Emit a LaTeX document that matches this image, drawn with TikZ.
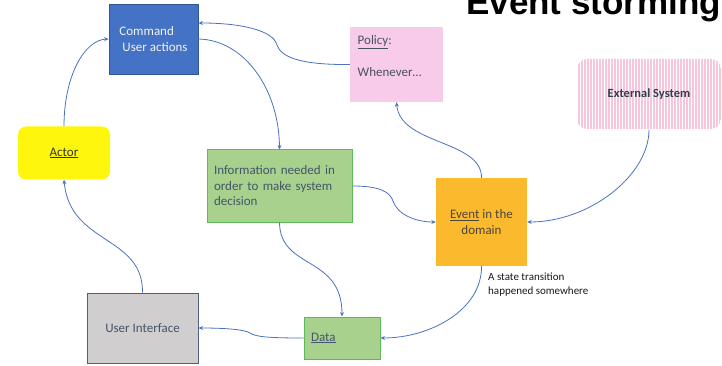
\documentclass[tikz,border=0pt]{standalone}
\usepackage{fontspec}
\setmainfont{Carlito}
\newfontfamily\titlefont{Liberation Sans}
\usetikzlibrary{arrows.meta,patterns.meta}
\definecolor{cmdblue}{HTML}{4472C4}
\definecolor{cmdedge}{HTML}{2F5597}
\definecolor{actyellow}{HTML}{FEF60C}
\definecolor{greenfill}{HTML}{A9D18E}
\definecolor{greenedge}{HTML}{5EB95A}
\definecolor{pinkfill}{HTML}{F9CBEA}
\definecolor{stripe}{HTML}{F7C6DC}
\definecolor{evorange}{HTML}{FBBA2D}
\definecolor{uigray}{HTML}{D0CECE}
\definecolor{uiedge}{HTML}{4E5F80}
\definecolor{arrowblue}{HTML}{4A72C0}
\definecolor{slate}{HTML}{44546A}
\definecolor{navy}{HTML}{333F50}
\definecolor{evtext}{HTML}{4D4536}
\tikzset{
  box/.style={inner sep=7pt, font=\fontsize{13}{15.5}\selectfont},
  conn/.style={draw=arrowblue, line width=0.8pt, -{Stealth[length=4.5pt,width=4pt]}},
}
\begin{document}
\begin{tikzpicture}[x=1pt,y=-1pt]
\useasboundingbox (0,0) rectangle (722,366);
\clip (0,0) rectangle (722,366);
\fill[white] (0,0) rectangle (722,366);

% title
\node[anchor=base west, inner sep=0pt, font=\titlefont\bfseries\fontsize{35}{40}\selectfont] (title) at (466,15) {Event storming};

% boxes
\node[box, fill=cmdblue, draw=cmdedge, line width=0.8pt, minimum width=89pt, minimum height=70pt, text=white!95!black, align=left] (cmd) at (153.5,39) {Command\\\hspace*{3pt}User actions};
\node[box, fill=actyellow, rounded corners=8pt, minimum width=92pt, minimum height=53pt, text=black!80] (act) at (64,153) {\underline{Actor}};
\node[box, fill=greenfill, draw=greenedge, line width=1pt, minimum width=145pt, minimum height=72pt, text width=131pt, align=left, text=slate] (info) at (279.5,186) {Information needed in order to make system decision};
\node[box, fill=pinkfill, minimum width=93pt, minimum height=75pt] (pol) at (396.5,64.5) {};
\node[box, anchor=west, inner sep=0pt, align=left, text=navy!90] (poltxt) at (357.5,56) {\underline{Policy}:\\[16pt]Whenever…};
\node[box, pattern={Lines[angle=90,distance=3pt,line width=1.4pt]}, pattern color=stripe, rounded corners=10pt, minimum width=144pt, minimum height=70pt, text=navy, font=\bfseries\fontsize{12.5}{15}\selectfont] (ext) at (649,94) {External System};
\node[box, fill=evorange, minimum width=91pt, minimum height=88pt, align=center, text=evtext] (ev) at (481.5,222) {\underline{Event} in the\\domain};
\node[box, fill=uigray, draw=uiedge, line width=1pt, minimum width=111pt, minimum height=70pt, text=slate] (ui) at (142.5,328) {User Interface};
\node[box, fill=greenfill, draw=greenedge, line width=1pt, minimum width=76pt, minimum height=42pt, text width=62pt, align=left, text=slate] (data) at (342,338) {\underline{Data}};
\node[anchor=north west, inner sep=0pt, align=left, text=black!90, font=\fontsize{11}{14}\selectfont] (note) at (488,273) {A state transition\\happened somewhere};

% connectors
\draw[conn] (act.north) .. controls (64,75) and (85,40) .. (cmd.west);
\draw[conn] (pol.west) .. controls (300,65) and (281,57) .. (277,45) .. controls (273,30) and (240,23) .. ([yshift=16pt]cmd.east);
\draw[conn] (cmd.east) .. controls (245,40) and (279,90) .. (info.north);
\draw[conn] (info.east) .. controls (380,186) and (390,192) .. (393,201) .. controls (397,214) and (415,222) .. (ev.west);
\draw[conn] (ext.south) .. controls (649,175) and (590,222) .. (ev.east);
\draw[conn] (ev.north) .. controls (482,140) and (400,145) .. (pol.south);
\draw[conn] (info.south) .. controls (280,270) and (342,255) .. (data.north);
\draw[conn] (ev.south) .. controls (482,310) and (430,338) .. (data.east);
\draw[conn] (data.west) .. controls (270,338) and (256,337) .. (250,333) .. controls (244,329) and (220,328) .. (ui.east);
\draw[conn] (ui.north) .. controls (143,235) and (70,245) .. (act.south);
\end{tikzpicture}
\end{document}
